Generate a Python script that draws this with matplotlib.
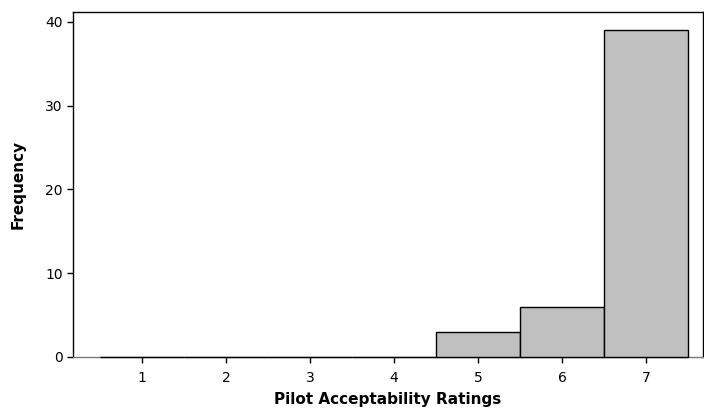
import matplotlib
matplotlib.use("Agg")
import matplotlib.pyplot as plt

ratings = [1, 2, 3, 4, 5, 6, 7]
counts = [0, 0, 0, 0, 3, 6, 39]
yticks = [0, 10, 20, 30, 40]

plt.rcParams['font.family'] = ['DejaVu Sans']
fig = plt.figure(figsize=(7.04, 4.11), dpi=100)
ax = fig.add_axes([0.1037, 0.1314, 0.895, 0.8406])

bars = ax.bar(ratings, counts, width=1.0, color="#c0c0c0", edgecolor="black", linewidth=1.0, zorder=3)
for b in bars:
    b.set_clip_on(False)

ax.set_xlim(0.18, 7.68)
ax.set_ylim(0, 41.25)
ax.set_xticks(ratings)
ax.set_yticks(yticks)
ax.tick_params(direction="out", length=4, width=1, labelsize=10, colors="black")
ax.tick_params(axis="x", pad=6)
for s in ax.spines.values():
    s.set_linewidth(1)
ax.spines["bottom"].set_color("#777777")

ax.set_xlabel("Pilot Acceptability Ratings", fontsize=11, fontweight="bold", labelpad=5)
ax.set_ylabel("Frequency", fontsize=11, fontweight="bold", labelpad=14)

fig.savefig("out.png", dpi=100)
